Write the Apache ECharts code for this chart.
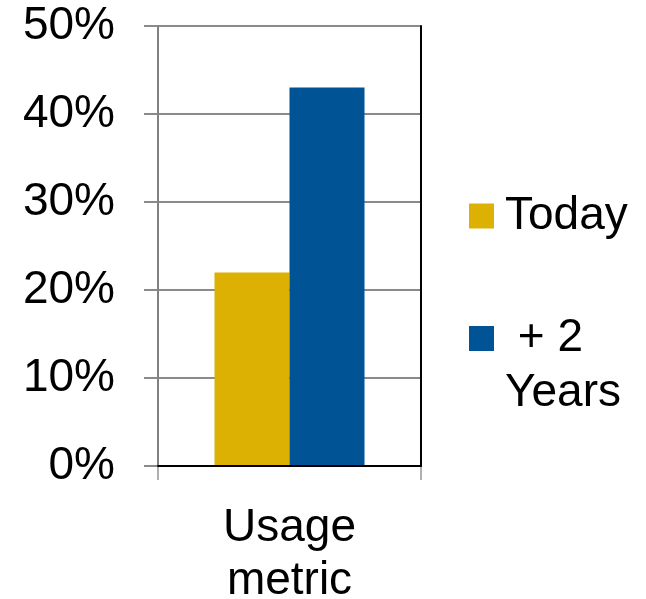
<!DOCTYPE html>
<html>
<head>
<meta charset="utf-8">
<title>Usage metric</title>
<script src="https://cdn.jsdelivr.net/npm/echarts@6/dist/echarts.min.js"></script>
<style>
  html, body { margin: 0; padding: 0; background: #fff; }
  #main { width: 646px; height: 599px; }
</style>
</head>
<body>
<div id="main"></div>
<script>
// dados do grafico
var categorias = ['Usage\nmetric'];
var nomeHoje = 'Today';
var nomeFuturo = ' + 2\nYears';
var valoresHoje = [22];
var valoresFuturo = [43];
var yMin = 0;
var yMax = 50;
var yPasso = 10;

var fonte = '"Liberation Sans", Arial, sans-serif';
var amarelo = '#DCB104';
var azul = '#005394';

window.onload = function () {
  var myChart = echarts.init(document.getElementById('main'));

  myChart.setOption({
    animation: false,
    backgroundColor: '#fff',
    grid: {
      left: 158,
      top: 26,
      width: 263,
      height: 440,
      // nao deixa o grid encolher por causa dos rotulos
      outerBoundsMode: 'none'
    },
    // duas legendas separadas para o quadrado ficar na linha "+ 2"
    legend: [
      {
        data: [nomeHoje],
        left: 469,
        top: 193,
        padding: 0,
        icon: 'rect',
        itemWidth: 25,
        itemHeight: 25,
        selectedMode: false,
        textStyle: { fontSize: 46, fontFamily: fonte, color: '#000', padding: [0, 0, 0, 6] }
      },
      {
        data: [nomeFuturo],
        left: 469,
        top: 256,
        padding: 0,
        icon: 'rect',
        itemWidth: 25,
        itemHeight: 25,
        selectedMode: false,
        // linha vazia em cima: assim a linha "+ 2" fica no meio, junto do quadrado
        formatter: function (name) {
          return '\n' + name;
        },
        textStyle: { fontSize: 46, fontFamily: fonte, color: '#000', lineHeight: 55, padding: [0, 0, 0, 6] }
      }
    ],
    xAxis: [
      {
        type: 'category',
        data: categorias,
        axisLine: { lineStyle: { color: '#8a8a8a', width: 2 } },
        axisTick: { show: true, length: 14, lineStyle: { color: '#b0b0b0', width: 2 } },
        axisLabel: { fontSize: 46, fontFamily: fonte, color: '#000', lineHeight: 53, margin: 36 }
      },
      {
        // borda de cima
        type: 'category',
        data: categorias,
        position: 'top',
        z: 5,
        axisLine: { lineStyle: { color: '#000', width: 2 } },
        axisTick: { show: false },
        axisLabel: { show: false }
      }
    ],
    yAxis: [
      {
        type: 'value',
        min: yMin,
        max: yMax,
        interval: yPasso,
        axisLine: { show: true, lineStyle: { color: '#808080', width: 2 } },
        axisTick: { show: true, length: 14, lineStyle: { color: '#8a8a8a', width: 2 } },
        splitLine: { lineStyle: { color: '#8a8a8a', width: 2 } },
        axisLabel: { fontSize: 46, fontFamily: fonte, color: '#000', margin: 43, formatter: '{value}%' }
      },
      {
        // borda da direita
        type: 'value',
        position: 'right',
        min: yMin,
        max: yMax,
        interval: yPasso,
        z: 5,
        axisLine: { show: true, lineStyle: { color: '#000', width: 2 } },
        axisTick: { show: false },
        splitLine: { show: false },
        axisLabel: { show: false }
      }
    ],
    series: [
      {
        name: nomeHoje,
        type: 'bar',
        data: valoresHoje,
        barWidth: 75,
        barGap: '0%',
        itemStyle: { color: amarelo }
      },
      {
        name: nomeFuturo,
        type: 'bar',
        data: valoresFuturo,
        barWidth: 75,
        barGap: '0%',
        itemStyle: { color: azul }
      }
    ]
  });
};
</script>
</body>
</html>
